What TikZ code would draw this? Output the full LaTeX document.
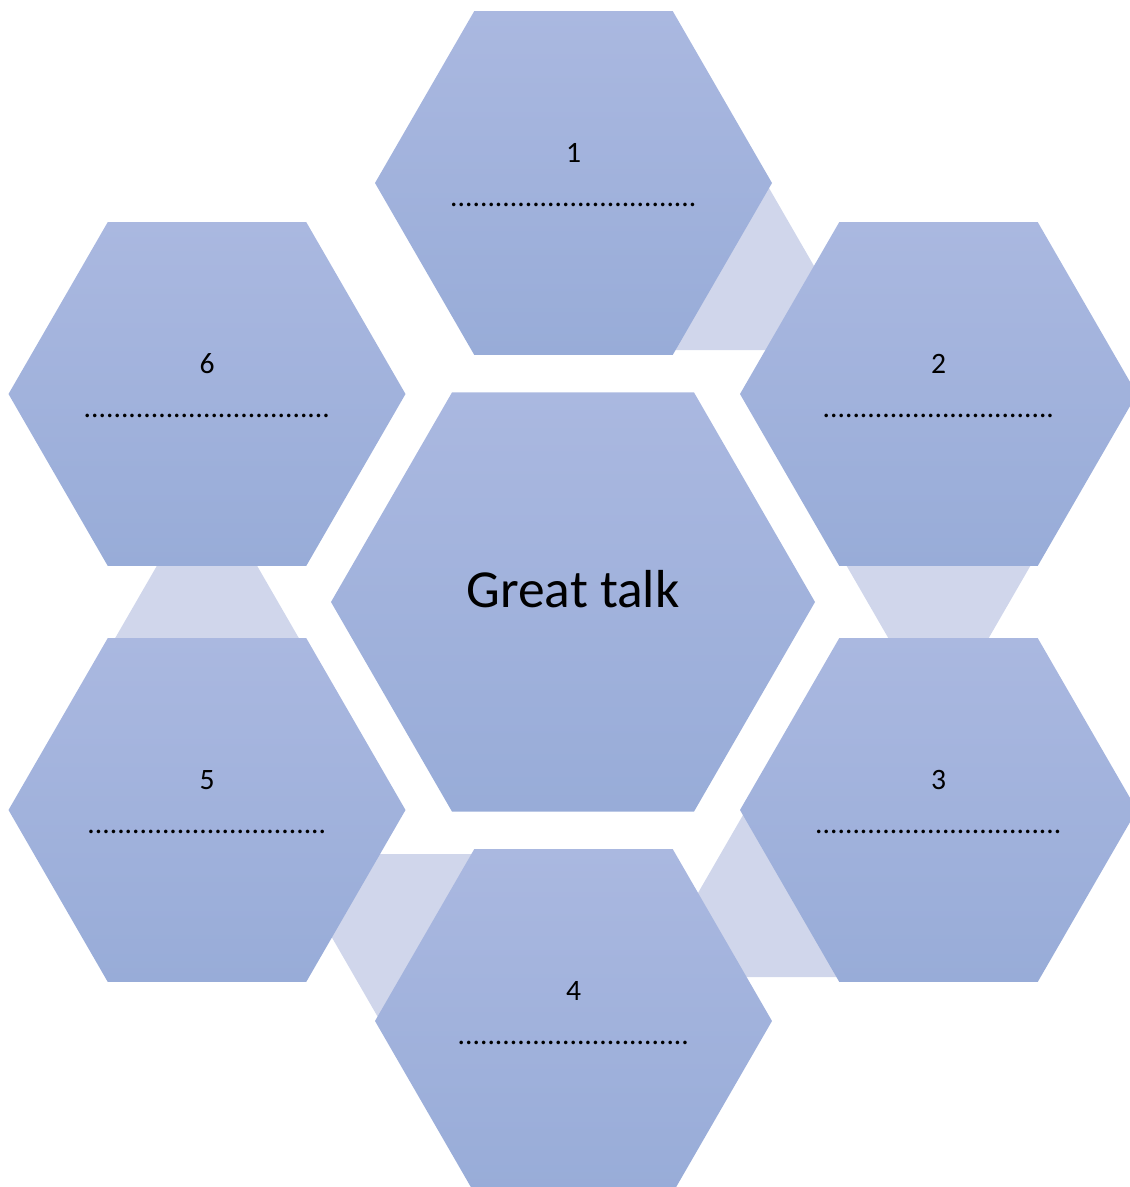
\documentclass[tikz,border=0pt]{standalone}
\usepackage{fontspec}
\setmainfont{Carlito}
\usetikzlibrary{shapes.geometric}
\definecolor{hextop}{RGB}{170,184,224}
\definecolor{hexbot}{RGB}{152,172,216}
\definecolor{trifill}{RGB}{208,214,235}
\tikzset{
  hexouter/.style={regular polygon, regular polygon sides=6, minimum size=397pt,
    inner sep=0pt, outer sep=0pt, draw=none, top color=hextop, bottom color=hexbot},
  hexcore/.style={hexouter, minimum size=484pt},
  triup/.style={regular polygon, regular polygon sides=3, minimum size=246pt,
    inner sep=0pt, outer sep=0pt, draw=none, fill=trifill},
  tridown/.style={triup, shape border rotate=180},
  numlabel/.style={anchor=base, inner sep=0pt, font=\fontsize{29.6}{36}\selectfont},
  titlelabel/.style={anchor=base, inner sep=0pt, font=\fontsize{53.5}{64}\selectfont}
}
\begin{document}
\begin{tikzpicture}[x=1pt,y=-1pt]
  \path[use as bounding box, clip] (0,0) rectangle (1130,1187);
  % connector triangles
  \node[triup]   (t12) at (756,288.5) {};
  \node[tridown] (t23) at (938.5,602) {};
  \node[triup]   (t34) at (756,915.5) {};
  \node[tridown] (t45) at (390.25,915.5) {};
  \node[triup]   (t56) at (207,602) {};
  % hexagons
  \node[hexcore]  (hc) at (573,602) {};
  \node[hexouter] (h1) at (573.5,183) {};
  \node[hexouter] (h2) at (938.5,394) {};
  \node[hexouter] (h3) at (938.5,810) {};
  \node[hexouter] (h4) at (573.5,1021) {};
  \node[hexouter] (h5) at (207,810) {};
  \node[hexouter] (h6) at (207,394) {};
  % texts
  \node[titlelabel] (tc) at (573,607.5) {Great talk};
  \node[numlabel] (n1) at (573.5,162) {1};
  \node[numlabel] (d1) at (573.5,206) {.................................};
  \node[numlabel] (n2) at (938.5,373) {2};
  \node[numlabel] (d2) at (938.5,417) {...............................};
  \node[numlabel] (n3) at (938.5,789) {3};
  \node[numlabel] (d3) at (938.5,833) {.................................};
  \node[numlabel] (n4) at (573.5,1000) {4};
  \node[numlabel] (d4) at (573.5,1044) {...............................};
  \node[numlabel] (n5) at (207,789) {5};
  \node[numlabel] (d5) at (207,833) {................................};
  \node[numlabel] (n6) at (207,373) {6};
  \node[numlabel] (d6) at (207,417) {.................................};
\end{tikzpicture}
\end{document}
